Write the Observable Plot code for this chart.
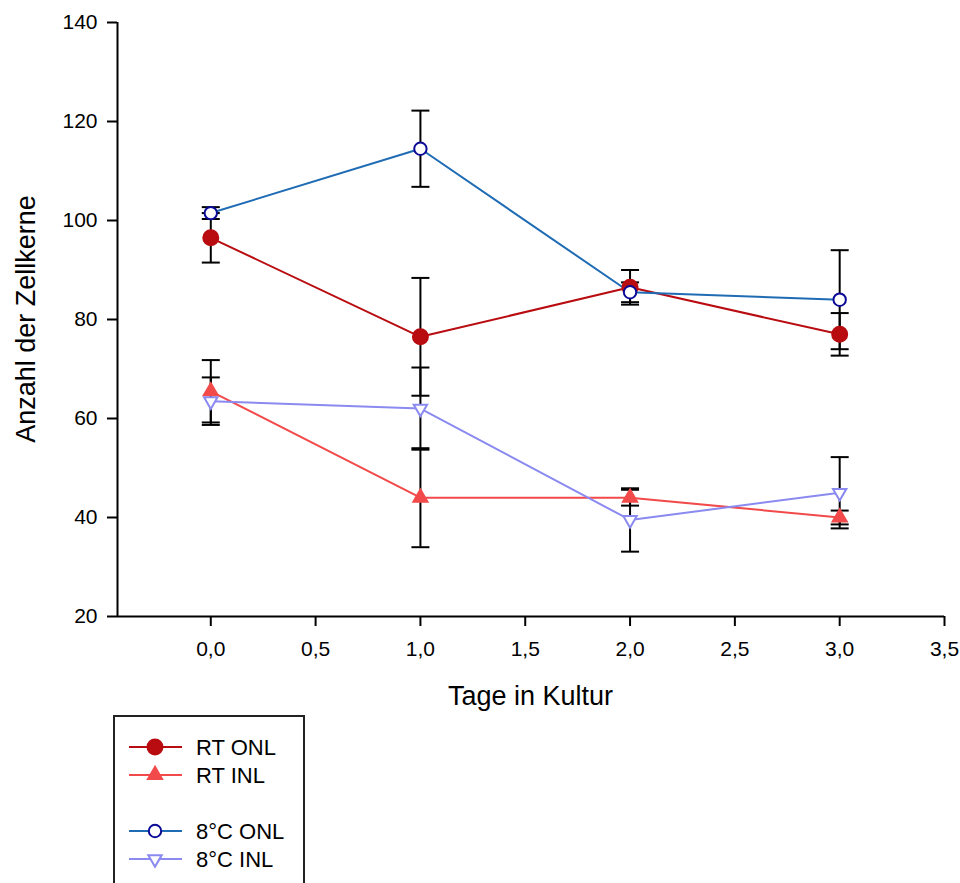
<!DOCTYPE html>
<html><head><meta charset="utf-8">
<script src="https://cdn.jsdelivr.net/npm/d3@7"></script>
<script src="https://cdn.jsdelivr.net/npm/@observablehq/plot@0.6"></script>
<style>
html,body{margin:0;padding:0;background:#fff;overflow:hidden;}
#wrap{position:relative;width:960px;height:883px;overflow:hidden;}
#legend{position:absolute;left:113px;top:715px;}
</style></head><body><div id="wrap"></div>
<script>
// ---- data ----
const days = [0, 1, 2, 3];
const seriesNames = ["RT ONL", "RT INL", "8°C ONL", "8°C INL"];
const rtOnl = [96.5, 76.5, 86.5, 77.0];
const rtOnlErr = [5.0, 11.9, 3.5, 4.3];
const rtInl = [65.5, 44.0, 44.0, 40.0];
const rtInlErr = [6.3, 10.0, 1.6, 1.4];
const c8Onl = [101.5, 114.5, 85.5, 84.0];
const c8OnlErr = [1.2, 7.7, 2.0, 10.0];
const c8Inl = [63.5, 62.0, 39.5, 45.0];
const c8InlErr = [4.8, 8.3, 6.4, 7.2];
const xTicks = [0, 0.5, 1, 1.5, 2, 2.5, 3, 3.5];
const yTicks = [20, 40, 60, 80, 100, 120, 140];
const xTitle = "Tage in Kultur";
const yTitle = "Anzahl der Zellkerne";

const lineColors = ["#b80c10", "#f24a4a", "#1f6cb4", "#8a8af0"];
const markerStroke = ["#b80c10", "#f24a4a", "#0a0a96", "#8a8af0"];
const markerFill = ["#b80c10", "#f24a4a", "#ffffff", "#ffffff"];

const values = [rtOnl, rtInl, c8Onl, c8Inl];
const errs = [rtOnlErr, rtInlErr, c8OnlErr, c8InlErr];
const rows = [];
seriesNames.forEach((s, i) => days.forEach((d, j) => rows.push({
  series: s, day: d, value: values[i][j], lo: values[i][j] - errs[i][j], hi: values[i][j] + errs[i][j]
})));

// custom symbols
const capSym = {draw(ctx, size) { const r = Math.sqrt(size / Math.PI); ctx.moveTo(-r, 0); ctx.lineTo(r, 0); }};
const triDown = {draw(ctx, size) {
  const r = Math.sqrt(size / Math.PI) * 1.25;
  ctx.moveTo(0, r); ctx.lineTo(-r * 0.866, -r / 2); ctx.lineTo(r * 0.866, -r / 2); ctx.closePath();
}};
const triUp = {draw(ctx, size) {
  const r = Math.sqrt(size / Math.PI) * 1.25;
  ctx.moveTo(0, -r); ctx.lineTo(-r * 0.866, r / 2); ctx.lineTo(r * 0.866, r / 2); ctx.closePath();
}};
const symbols = [d3.symbolCircle, triUp, d3.symbolCircle, triDown];
const radii = [7.5, 6.5, 6.2, 6.2];

const font = "Liberation Sans, Arial, sans-serif";
const fmt = d => d.toFixed(1).replace(".", ",");

const markerMarks = seriesNames.map((s, i) => Plot.dot(rows.filter(r => r.series === s), {
  x: "day", y: "value", symbol: () => symbols[i], r: radii[i],
  fill: markerFill[i], stroke: markerStroke[i], strokeWidth: 2
}));

const chart = Plot.plot({
  width: 960, height: 883,
  marginLeft: 117, marginRight: 16, marginTop: 22, marginBottom: 267,
  style: {fontFamily: font, fontSize: "21px", color: "black", background: "white"},
  x: {domain: [-0.445, 3.5]},
  y: {domain: [20, 140]},
  color: {domain: seriesNames, range: lineColors},
  marks: [
    Plot.axisX({ticks: xTicks, tickFormat: fmt, tickSize: 10, tickPadding: 15, fontSize: 21, label: null, strokeWidth: 2}),
    Plot.axisY({ticks: yTicks, tickSize: 10, tickPadding: 10, fontSize: 21, label: null, strokeWidth: 2}),
    Plot.ruleY([20], {stroke: "black", strokeWidth: 2}),
    Plot.ruleX([-0.445], {stroke: "black", strokeWidth: 2}),
    Plot.line(rows, {x: "day", y: "value", z: "series", stroke: "series", strokeWidth: 2}),
    Plot.ruleX(rows, {x: "day", y1: "lo", y2: "hi", stroke: "black", strokeWidth: 2}),
    Plot.dot(rows, {x: "day", y: "lo", symbol: () => capSym, r: 9, fill: "none", stroke: "black", strokeWidth: 2}),
    Plot.dot(rows, {x: "day", y: "hi", symbol: () => capSym, r: 9, fill: "none", stroke: "black", strokeWidth: 2}),
    ...markerMarks
  ]
});
document.getElementById("wrap").appendChild(chart);

// axis titles, placed from the plot's own scale ranges
const sx = chart.scale("x"), sy = chart.scale("y");
const xMid = (sx.range[0] + sx.range[1]) / 2;
const yMid = (sy.range[0] + sy.range[1]) / 2;
const yBottom = Math.max(...sy.range);
const svgSel = d3.select(chart.tagName === "svg" ? chart : chart.querySelector("svg"));
svgSel.selectAll("text").filter(function() { return !this.getAttribute("font-size"); }).attr("font-size", 21);
svgSel.append("text").attr("x", xMid).attr("y", yBottom + 80).attr("dy", "0.35em")
  .attr("text-anchor", "middle").attr("font-size", 27).attr("font-family", font).attr("fill", "black").text(xTitle);
svgSel.append("text").attr("transform", `translate(26,${yMid}) rotate(-90)`).attr("dy", "0.35em")
  .attr("text-anchor", "middle").attr("font-size", 27).attr("font-family", font).attr("fill", "black").text(yTitle);

// ---- legend ----
const lw = 192, lh = 200;
const legend = d3.select("#wrap").append("svg").attr("id", "legend")
  .attr("width", lw).attr("height", lh).style("font-family", font);
legend.append("rect").attr("x", 1).attr("y", 1).attr("width", lw - 2).attr("height", lh + 10)
  .attr("fill", "white").attr("stroke", "#222").attr("stroke-width", 2);
const rowY = [32, 60, 116, 144];
seriesNames.forEach((s, i) => {
  const g = legend.append("g").attr("transform", `translate(0,${rowY[i]})`);
  g.append("line").attr("x1", 16).attr("x2", 69).attr("y1", 0).attr("y2", 0)
    .attr("stroke", lineColors[i]).attr("stroke-width", 2);
  g.append("path").attr("transform", "translate(42,0)")
    .attr("d", d3.symbol(symbols[i], Math.PI * radii[i] * radii[i])())
    .attr("fill", markerFill[i]).attr("stroke", markerStroke[i]).attr("stroke-width", 2);
  g.append("text").attr("x", 83).attr("y", 0).attr("dy", "0.35em")
    .attr("font-size", 22).attr("fill", "black").text(s);
});
</script></body></html>
